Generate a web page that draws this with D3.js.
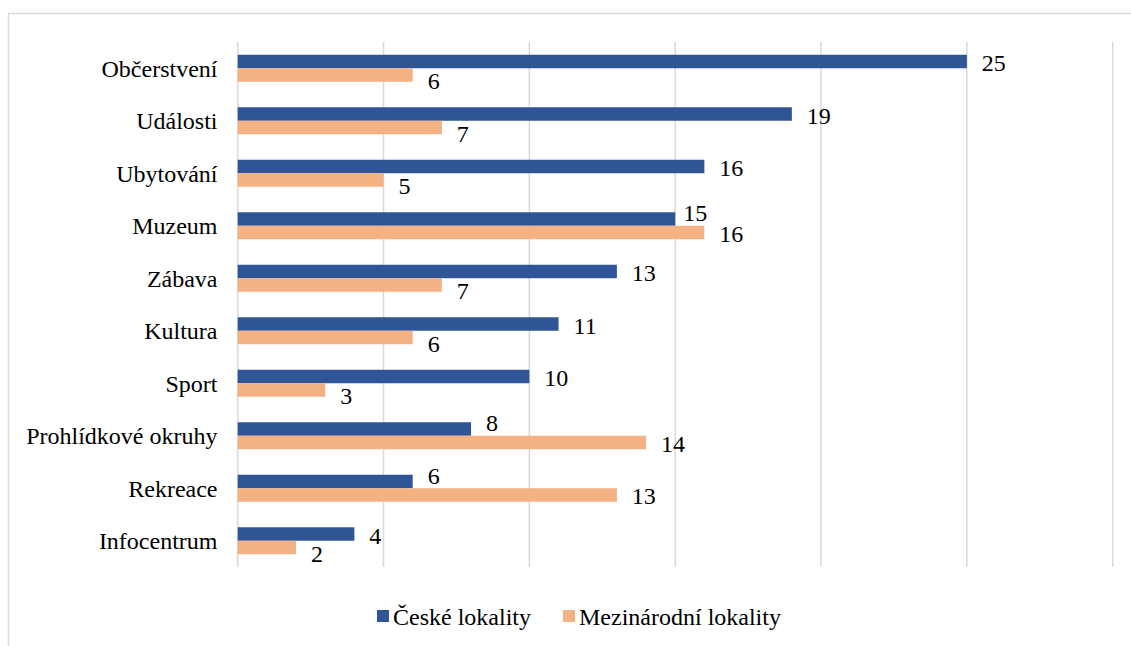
<!DOCTYPE html>
<html>
<head>
<meta charset="utf-8">
<script src="https://cdn.jsdelivr.net/npm/d3@7"></script>
</head>
<body style="margin:0;background:#fff">
<svg id="chart" width="1131" height="646" style="display:block"></svg>
<script>
const categories = ["Občerstvení", "Události", "Ubytování", "Muzeum", "Zábava", "Kultura", "Sport", "Prohlídkové okruhy", "Rekreace", "Infocentrum"];
const ceskeValues = [25, 19, 16, 15, 13, 11, 10, 8, 6, 4];
const mezinarodniValues = [6, 7, 5, 16, 7, 6, 3, 14, 13, 2];
const seriesNames = ["České lokality", "Mezinárodní lokality"];
const seriesColors = ["#2F5597", "#F4B183"];
const xTicks = [0, 5, 10, 15, 20, 25, 30];

const FONT = "'Liberation Serif'";
const svg = d3.select("#chart");

// outer frame (top and left visible)
svg.append("rect")
  .attr("x", 8.5).attr("y", 13.5)
  .attr("width", 1200).attr("height", 700)
  .attr("fill", "none").attr("stroke", "#d9d9d9").attr("stroke-width", 1.5);

const x = d3.scaleLinear().domain([0, 30]).range([237.7, 1112.7]);
const y = d3.scaleBand().domain(categories).range([42, 567]).paddingInner(0.486).paddingOuter(0.243);
const ySub = d3.scaleBand().domain([0, 1]).range([0, y.bandwidth()]);

// gridlines
svg.append("g").selectAll("line").data(xTicks).join("line")
  .attr("x1", d => x(d)).attr("x2", d => x(d))
  .attr("y1", 42).attr("y2", 567)
  .attr("stroke", "#d9d9d9").attr("stroke-width", 1.5);

const rows = categories.map((c, i) => ({ cat: c, vals: [ceskeValues[i], mezinarodniValues[i]] }));

const g = svg.append("g").selectAll("g").data(rows).join("g")
  .attr("transform", d => `translate(0,${y(d.cat)})`);

g.selectAll("rect").data(d => d.vals.map((v, s) => ({ v, s }))).join("rect")
  .attr("x", x(0))
  .attr("y", d => ySub(d.s))
  .attr("width", d => x(d.v) - x(0))
  .attr("height", ySub.bandwidth())
  .attr("fill", d => seriesColors[d.s]);

// value labels
g.each(function(row) {
  const sel = d3.select(this);
  const raised = row.vals[1] > row.vals[0];
  const tight = raised && (row.vals[1] - row.vals[0]) <= 2;
  row.vals.forEach((v, s) => {
    let cy = ySub(s) + ySub.bandwidth() / 2;
    if (s === 0) cy += raised ? -6 : 1.5;
    else cy += raised ? 1 : 6;
    sel.append("text")
      .attr("x", x(v) + (s === 0 && tight ? 8 : 15))
      .attr("y", cy)
      .attr("dy", "0.35em")
      .style("font-family", FONT)
      .style("font-size", "24px")
      .attr("fill", "#000")
      .text(v);
  });
});

// category labels
svg.append("g").selectAll("text").data(categories).join("text")
  .attr("x", 217.5)
  .attr("y", d => y(d) + y.bandwidth() / 2)
  .attr("dy", "0.35em")
  .attr("text-anchor", "end")
  .style("font-family", FONT)
  .style("font-size", "24px")
  .attr("fill", "#000")
  .text(d => d);

// legend
const legendX = [377, 563];
const lg = svg.append("g").selectAll("g").data(seriesNames).join("g")
  .attr("transform", (d, i) => `translate(${legendX[i]},610)`);
lg.append("rect").attr("width", 12).attr("height", 12).attr("fill", (d, i) => seriesColors[i]);
lg.append("text").attr("x", 16).attr("y", 15)
  .style("font-family", FONT).style("font-size", "24px").attr("fill", "#000").text(d => d);
</script>
</body>
</html>
